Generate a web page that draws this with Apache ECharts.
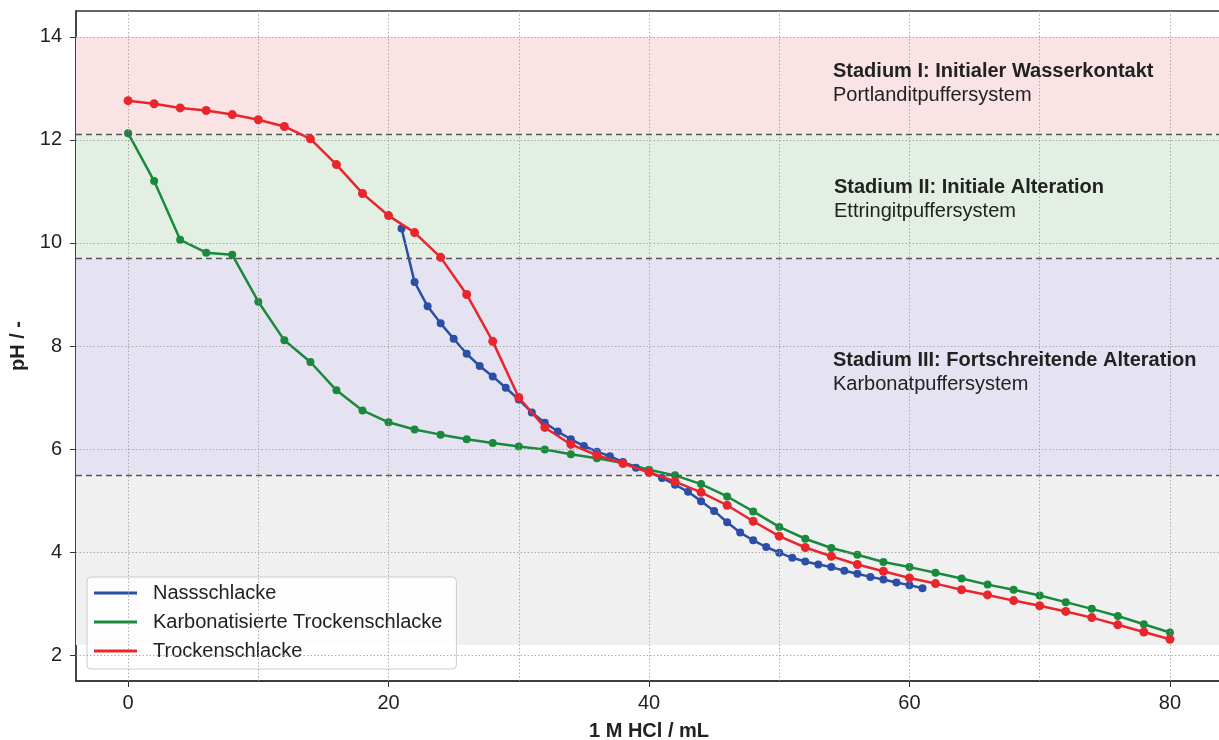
<!DOCTYPE html>
<html>
<head>
	<meta charset="utf-8">
	<title>pH Titration</title>
	<script src="https://cdn.jsdelivr.net/npm/echarts@6/dist/echarts.min.js"></script>
	<style>
		body { margin: 0; background: #fff; }
	</style>
</head>
<body>
	<div id="main" style="width: 1219px;height: 740px;"></div>
	<script>
		// Daten
		var volTrocken = [0,2,4,6,8,10,12,14,16,18,20,22,24,26,28,30,32,34,36,38,40,42,44,46,48,50,52,54,56,58,60,62,64,66,68,70,72,74,76,78,80];
		var volNass = [21,22,23,24,25,26,27,28,29,30,31,32,33,34,35,36,37,38,39,40,41,42,43,44,45,46,47,48,49,50,51,52,53,54,55,56,57,58,59,60,61];
		var phNass = [10.28,9.24,8.77,8.44,8.14,7.85,7.61,7.41,7.19,6.96,6.71,6.51,6.34,6.19,6.06,5.95,5.86,5.75,5.64,5.55,5.44,5.31,5.17,4.99,4.80,4.58,4.38,4.23,4.10,3.99,3.89,3.82,3.76,3.71,3.64,3.58,3.52,3.47,3.41,3.36,3.30];
		var phKarb = [12.13,11.20,10.06,9.81,9.77,8.86,8.11,7.69,7.14,6.75,6.52,6.38,6.28,6.19,6.12,6.05,5.99,5.90,5.82,5.73,5.60,5.49,5.32,5.08,4.79,4.49,4.26,4.08,3.95,3.81,3.71,3.60,3.49,3.37,3.27,3.16,3.03,2.90,2.76,2.60,2.44];
		var phTrocken = [12.76,12.70,12.62,12.57,12.49,12.39,12.26,12.02,11.52,10.96,10.53,10.20,9.72,9.00,8.09,7.00,6.42,6.09,5.88,5.72,5.55,5.37,5.16,4.91,4.60,4.31,4.09,3.92,3.76,3.63,3.50,3.39,3.27,3.17,3.06,2.96,2.85,2.73,2.59,2.45,2.31];

		// Stadien-Grenzen
		var stageBounds = [14, 12.1, 9.7, 5.5, 2.2];
		var stageColors = ['#fae3e5', '#e4efe3', '#e5e3f2', '#f0f0f0'];

		var xTicks = [0, 20, 40, 60, 80];
		var yTicks = [2, 4, 6, 8, 10, 12, 14];
		var xGrid = [0, 10, 20, 30, 40, 50, 60, 70, 80];
		var yGrid = [2, 4, 6, 8, 10, 12, 14];

		function pairs(xs, ys) {
			return xs.map(function (x, i) { return [x, ys[i]]; });
		}

		var myCharts = echarts.init(document.getElementById('main'));
		var fontFam = 'Liberation Sans';

		var bands = [];
		for (var i = 0; i < stageColors.length; i++) {
			bands.push([{ yAxis: stageBounds[i], itemStyle: { color: stageColors[i] } }, { yAxis: stageBounds[i + 1] }]);
		}
		var gridLines = [];
		xGrid.forEach(function (v) { gridLines.push({ xAxis: v }); });
		yGrid.forEach(function (v) { gridLines.push({ yAxis: v }); });

		// Beschriftung der Stadien
		function note(x, y, txt, bold) {
			return {
				type: 'text', x: x, y: y, z: 100,
				style: {
					text: txt, fontSize: 20, fontFamily: fontFam,
					fontWeight: bold ? 'bold' : 'normal', fill: '#222',
					verticalAlign: 'middle', align: 'left'
				}
			};
		}

		var option = {
			animation: false,
			textStyle: { fontFamily: fontFam },
			grid: {
				left: 76, top: 11, right: -3, bottom: 59,
				outerBoundsMode: 'none', containLabel: false,
				show: true, borderColor: '#333', borderWidth: 1.3, backgroundColor: 'transparent'
			},
			legend: {
				data: ['Nassschlacke', 'Karbonatisierte Trockenschlacke', 'Trockenschlacke'],
				orient: 'vertical',
				left: 87, top: 577,
				icon: 'rect',
				itemWidth: 43, itemHeight: 3,
				itemGap: 9,
				padding: [6, 14, 8, 7],
				backgroundColor: 'rgba(255,255,255,0.85)',
				borderColor: '#ccc', borderWidth: 1, borderRadius: 4,
				textStyle: { fontSize: 20, color: '#222', lineHeight: 20, fontFamily: fontFam, padding: [0, 0, 0, 11] }
			},
			xAxis: {
				type: 'value', min: -4, max: 84,
				name: '1 M HCl / mL', nameLocation: 'middle', nameGap: 40,
				nameTextStyle: { fontSize: 20, fontWeight: 'bold', color: '#222' },
				axisLine: { show: true, onZero: false, lineStyle: { color: '#333', width: 1.5 } },
				axisTick: { show: true, length: 6, customValues: xTicks, lineStyle: { color: '#333' } },
				axisLabel: { fontSize: 20, color: '#222', margin: 12, customValues: xTicks },
				splitLine: { show: false }
			},
			yAxis: {
				type: 'value', min: 1.5, max: 14.5,
				name: 'pH / -', nameLocation: 'middle', nameGap: 44,
				nameTextStyle: { fontSize: 20, fontWeight: 'bold', color: '#222' },
				axisLine: { show: true, onZero: false, lineStyle: { color: '#333', width: 1.5 } },
				axisTick: { show: true, length: 6, customValues: yTicks, lineStyle: { color: '#333' } },
				axisLabel: { fontSize: 20, color: '#222', margin: 14, customValues: yTicks },
				splitLine: { show: false }
			},
			series: [
				{
					name: 'Hintergrund', type: 'line', data: [], z: 1, silent: true,
					markArea: { silent: true, data: bands },
					markLine: {
						silent: true, symbol: 'none', label: { show: false },
						lineStyle: { color: '#999', type: [1.5, 2], width: 0.8 },
						data: gridLines
					}
				},
				{
					name: 'Grenzen', type: 'line', data: [], z: 2, silent: true,
					markLine: {
						silent: true, symbol: 'none', label: { show: false },
						lineStyle: { color: '#555', type: [6, 4], width: 1.3 },
						data: [{ yAxis: stageBounds[1] }, { yAxis: stageBounds[2] }, { yAxis: stageBounds[3] }]
					}
				},
				{
					name: 'Karbonatisierte Trockenschlacke', type: 'line', z: 3,
					data: pairs(volTrocken, phKarb),
					symbol: 'circle', symbolSize: 8,
					itemStyle: { color: '#198a3c' }, lineStyle: { color: '#198a3c', width: 2.5 }
				},
				{
					name: 'Nassschlacke', type: 'line', z: 4,
					data: pairs(volNass, phNass),
					symbol: 'circle', symbolSize: 8,
					itemStyle: { color: '#2b4fa6' }, lineStyle: { color: '#2b4fa6', width: 2.5 }
				},
				{
					name: 'Trockenschlacke', type: 'line', z: 5,
					data: pairs(volTrocken, phTrocken),
					symbol: 'circle', symbolSize: 9,
					itemStyle: { color: '#e8262b' }, lineStyle: { color: '#e8262b', width: 2.5 }
				}
			],
			graphic: [
				note(833, 71, 'Stadium I: Initialer Wasserkontakt', true),
				note(833, 95, 'Portlanditpuffersystem', false),
				note(834, 187, 'Stadium II: Initiale Alteration', true),
				note(834, 211, 'Ettringitpuffersystem', false),
				note(833, 360, 'Stadium III: Fortschreitende Alteration', true),
				note(833, 384, 'Karbonatpuffersystem', false)
			]
		};

		myCharts.setOption(option);
	</script>
</body>
</html>
